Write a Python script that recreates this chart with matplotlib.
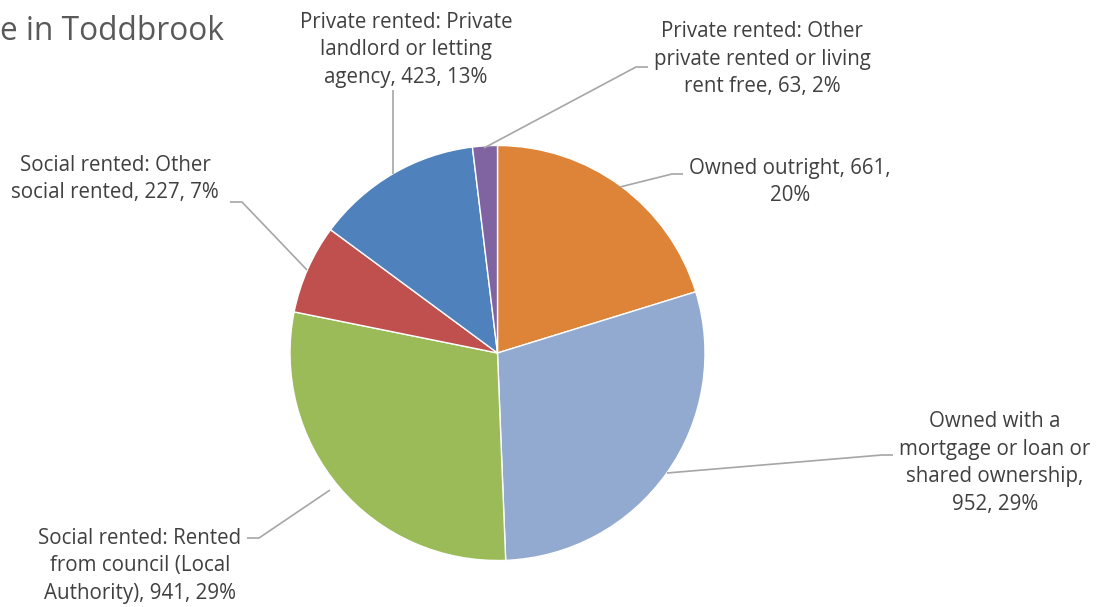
import matplotlib
matplotlib.use("Agg")
import matplotlib.pyplot as plt

# ---- data ----
categories = [
    "Owned outright",
    "Owned with a mortgage or loan or shared ownership",
    "Social rented: Rented from council (Local Authority)",
    "Social rented: Other social rented",
    "Private rented: Private landlord or letting agency",
    "Private rented: Other private rented or living rent free",
]
values = [661, 952, 941, 227, 423, 63]
percent_labels = ["20%", "29%", "29%", "7%", "13%", "2%"]
label_texts = [
    "Owned outright, 661,\n20%",
    "Owned with a\nmortgage or loan or\nshared ownership,\n952, 29%",
    "Social rented: Rented\nfrom council (Local\nAuthority), 941, 29%",
    "Social rented: Other\nsocial rented, 227, 7%",
    "Private rented: Private\nlandlord or letting\nagency, 423, 13%",
    "Private rented: Other\nprivate rented or living\nrent free, 63, 2%",
]
colors = ["#DD8439", "#92AAD0", "#9BBB59", "#C0504D", "#4F81BD", "#8064A2"]
title_text = "e in Toddbrook"

W, H = 1105, 607
fig = plt.figure(figsize=(W / 100, H / 100), dpi=100)
ax = fig.add_axes([0, 0, 1, 1])
ax.set_xlim(0, W)
ax.set_ylim(0, H)
ax.set_aspect("equal")
ax.axis("off")

def Y(y):
    return H - y

cx, cy, r = 497.5, 353, 207.5
ax.pie(values, colors=colors, startangle=90, counterclock=False,
       center=(cx, Y(cy)), radius=r, frame=True,
       wedgeprops=dict(edgecolor="white", linewidth=1.0))
ax.set_xlim(0, W)
ax.set_ylim(0, H)
ax.axis("off")

FONT = "Open Sans"
TXT = "#404040"
LINE = "#A6A6A6"
fs = 14.8

# label positions (center of text block, pixel coordinates) and leader paths
label_pos = [(790, 182), (995, 463), (140, 566), (115, 179), (406, 50), (762, 59)]
leaders = [
    [(620, 187), (672, 174), (683, 174)],
    [(667, 473), (882, 455), (893, 455)],
    [(330, 490), (259, 538), (247, 538)],
    [(307, 270), (242, 202), (230, 202)],
    [(393, 174), (393, 90)],
    [(484, 148), (636, 67), (648, 67)],
]
for txt, (lx, ly), path in zip(label_texts, label_pos, leaders):
    ax.text(lx, Y(ly), txt, ha="center", va="center", fontsize=fs,
            family=FONT, color=TXT, linespacing=1.43, multialignment="center")
    xs = [p[0] for p in path]
    ys = [Y(p[1]) for p in path]
    ax.plot(xs, ys, color=LINE, linewidth=1.2, solid_capstyle="butt")

ax.text(0, Y(31), title_text, ha="left", va="center", fontsize=22.8,
        family=FONT, color="#595959")

fig.savefig("out.png", dpi=100)
